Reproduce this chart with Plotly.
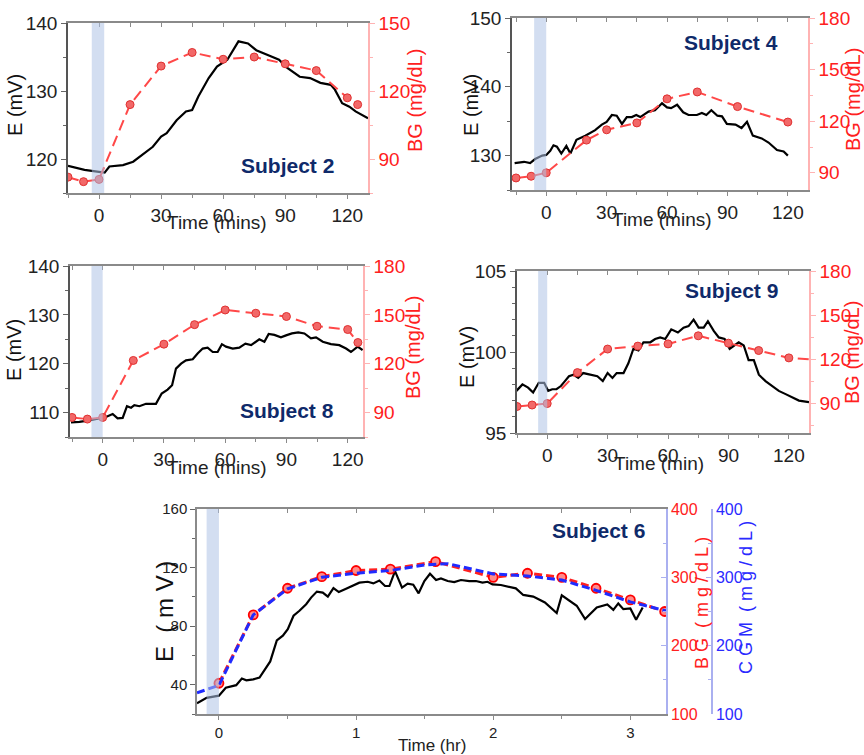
import plotly.graph_objects as go

# ---------------- DATA ----------------
s2_t_e = [-15,-7,0,2.7,5,11.6,16.5,21,26,30,32.7,37.5,42,45,48,53,57,62,67.4,72,76,83,87,91,97,102,107,112,114,117.5,121,124,130]
s2_e = [119,118.4,118.1,118,118.9,119.1,119.6,120.7,121.8,123.3,123.8,125.7,127,127.2,129.2,131.9,133.6,134.6,137.3,137,136,135.1,134.6,133.4,132.1,131.9,131.2,130.9,130.2,128.2,127.7,127,126]
s2_t_bg = [-15,-7.5,0,15,30,45,60,75,90,105,120,125]
s2_bg = [82,80,81,114,131,137,134,135,132,129,117,114]

s4_t_e = [-15.7,-11,-8,-5.5,-2,0,2,3.6,5.3,7.5,10,12,15,19.4,24.3,27.6,30,32.6,35,37.6,40,42.5,44.7,46.7,50.8,54,57.5,60,62,65,68,70.7,74.8,77.3,79.5,82,85,87.3,89.7,94,97,99.7,102.6,107,110.4,114.6,117.9,120]
s4_e = [128.9,129.1,128.9,129.5,130,130.1,130.7,131.5,131.3,130.3,131.4,130.3,132.3,132.9,133.7,134.5,134.9,135.9,135.8,134.6,135.6,135.6,135.9,135.6,136.4,136.6,137.6,137,136.9,137.4,136.3,135.9,135.9,136.2,135.9,136.6,135.8,135.7,134.6,134.5,134,134.9,132.9,132.5,131.9,130.8,130.6,130]
s4_t_bg = [-15,-7.5,0,20,30,45,60,75,95,120]
s4_bg = [87,88,90,109,115,119,133,137,128.5,119.5]

s8_t_e = [-15.5,-11.4,-6.5,-1.6,1.6,4.9,7.3,9.8,11.9,13.9,15.5,18,21.2,26.1,28.9,31.8,34,35.9,38.4,40.8,44.1,46.5,49,51.4,53.9,56.3,58.4,60.4,63.7,66.9,69.9,72.7,76.7,79.2,81.3,84.1,87.3,89.8,92.7,95.8,98.8,102,104.5,107.8,111.8,115.9,119.2,121.6,124.9,127.3]
s8_e = [108,108.1,108.4,108.8,109.1,109.7,108.8,108.9,111.3,111,111.5,111.3,111.8,111.8,113.9,114.7,115.6,119,120,120.7,120.9,122.1,123.1,123.3,122.4,122.4,124,123.5,123.1,123.3,124.1,123.8,125,124.5,126.1,125.9,125.4,125.8,126.2,126.4,126.2,125.2,125.4,124.5,124,123.8,123.1,122.4,123.5,122.8]
s8_t_bg = [-15,-7.5,0,15,30,45,60,75,90,105,120,125]
s8_bg = [87,86,87,122,132,144,153,151,149,143,141,133]

s9_t_e = [-15.3,-12.3,-9.5,-7,-4.2,-1.5,0.5,2.5,4.6,6.8,8.8,10.8,13,15.4,17.9,21.2,24.9,27.6,30,32.4,34.5,37.9,40.3,42.8,45.3,47.8,51.2,53.6,56.1,58.6,61.6,64.9,67.7,70.2,72.7,75.2,77.7,79.8,82.7,85.2,88.1,90.6,93.1,95.1,97.6,100,102.6,105.1,108.4,111.8,115,118.4,121.7,125,130]
s9_e = [97.6,98,97.8,97.5,98.1,98.1,97.6,97.7,97.7,97.9,98.2,98.5,98.6,98.4,98.7,98.6,98.5,98.2,98.7,98.4,98.7,98.7,99.3,100.2,100.1,100.6,100.6,100.8,100.9,100.8,101.4,101.2,101.5,101.6,102,101.5,101.5,101.9,101.3,100.9,100.8,100.2,100.4,100.6,100.4,99.5,99.5,98.6,98.2,97.9,97.6,97.4,97.2,97,96.9]
s9_t_bg = [-15,-7.5,0,15,30,45,60,75,90,105,120,135]
s9_bg = [88,89,90,111,127,129,130.5,136,131,126,121,119.5]

s6_t_e = [-0.16,-0.09,0,0.05,0.126,0.167,0.2,0.25,0.296,0.333,0.374,0.422,0.466,0.502,0.544,0.587,0.636,0.672,0.714,0.757,0.794,0.835,0.874,0.927,0.976,1.024,1.085,1.126,1.17,1.211,1.243,1.284,1.335,1.376,1.417,1.456,1.498,1.539,1.583,1.619,1.668,1.716,1.765,1.825,1.874,1.922,1.959,1.995,2.056,2.117,2.165,2.219,2.292,2.377,2.463,2.5,2.609,2.67,2.755,2.832,2.876,2.912,2.949,3.0,3.042,3.09]
s6_e = [27.3,31,32.5,37.9,39.7,44.2,43,43.7,44.9,49.8,55.9,70.2,73.5,78,87.1,90.5,95,99.5,103.6,102.9,100.2,106,103.3,105.6,107.9,109.7,110.3,109.2,111.2,107.4,107.4,117.6,106.3,109,108.3,102.4,110.8,115.8,111.5,112.6,110.8,110.1,111.5,110.8,110.8,109.7,110.3,108.5,108.1,107,105.8,101.3,100.2,96.2,88.9,101.1,93.9,84.8,92.8,94.8,91.1,95.5,91.6,92.1,84.4,92.8]
s6_t_bg = [0,0.25,0.5,0.75,1.0,1.25,1.58,2.0,2.25,2.5,2.75,3.0,3.25]
s6_bg = [145,245,284,301,310,312,323,300,306,300,284,267,250]
s6_t_cgm = [-0.16,0,0.25,0.5,0.75,1.0,1.25,1.5,1.67,2.0,2.25,2.5,2.75,3.0,3.26]
s6_cgm = [131,142,245,283,300,306,310,318,320,305,302,296,281,264,251]

# ---------------- STYLE ----------------
W, H = 864, 755
def PX(x): return x / W
def PY(y): return 1 - y / H

FONT = "Liberation Sans, Arial, sans-serif"
NARROW = "Liberation Sans Narrow, Arial Narrow, Liberation Sans, sans-serif"
RED = "#ff2020"
NAVY = "#0f2a6a"
BLUE = "#2a2aff"
BAND = "rgba(175,195,230,0.55)"
PINK = "#ffb3b3"

fig = go.Figure()
layout = dict(width=W, height=H, margin=dict(l=0, r=0, t=0, b=0, autoexpand=False),
              paper_bgcolor="white", plot_bgcolor="white", showlegend=False)
shapes, annotations = [], []

def ax_id(prefix, n):
    return prefix if n == 1 else f"{prefix}{n}"

def key(prefix, n):
    return f"{prefix}axis" if n == 1 else f"{prefix}axis{n}"

def note(text, x, y, size, color, fam, angle=0):
    annotations.append(dict(text=text, x=PX(x), y=PY(y), xref="paper", yref="paper",
                            xanchor="center", yanchor="middle", showarrow=False, textangle=angle,
                            font=dict(size=size, color=color, family=fam)))

def add_panel(k, xd, yd, xr, yl, yr, ydt, ymin, y2dt, band, t_e, e, t_bg, bg,
              title, title_xy, e_xy, bg_xy, time_txt, time_xy, small=False):
    xn, yln, yrn = k, 2 * k - 1, 2 * k
    xid, ylid, yrid = ax_id("x", xn), ax_id("y", yln), ax_id("y", yrn)
    xtop = ax_id("x", xn + 5)
    fam = NARROW if small else FONT
    tsize = 15 if small else 19
    xmaj = 1 if small else 30
    xmin = 0.5 if small else 15
    layout[key("x", xn)] = dict(
        domain=xd, range=xr, anchor=ylid, showline=True, linecolor="#8a8a8a", linewidth=1.5,
        mirror=True, ticks="outside", ticklen=4, tickcolor="#8a8a8a",
        tick0=0, dtick=xmaj,
        minor=dict(dtick=xmin, ticks="outside", ticklen=3, tickcolor="#8a8a8a"),
        tickfont=dict(size=tsize, color="#222", family=fam), showgrid=False, zeroline=False,
        automargin=False)
    # top ticks (inside) on the frame
    layout[key("x", xn + 5)] = dict(
        range=xr, overlaying=xid, anchor=ylid, side="top", showline=False,
        ticks="inside", ticklen=4, tickcolor="#8a8a8a", tick0=0, dtick=xmin,
        showticklabels=False, showgrid=False, zeroline=False, automargin=False)
    fig.add_trace(go.Scatter(x=[xr[0]], y=[None], mode="lines", xaxis=xtop, yaxis=ylid,
                             hoverinfo="skip", showlegend=False))
    layout[key("y", yln)] = dict(
        domain=yd, range=yl, anchor=xid, showline=True, linecolor="#555" if not small else "#8a8a8a",
        linewidth=1.5, ticks="outside", ticklen=5, tickcolor="#666", tick0=0, dtick=ydt,
        minor=dict(dtick=ymin, ticks="outside", ticklen=3, tickcolor="#666"),
        tickfont=dict(size=tsize, color="#222", family=fam), showgrid=False, zeroline=False,
        automargin=False)
    layout[key("y", yrn)] = dict(
        range=yr, anchor=xid, overlaying=ylid, side="right", showline=True,
        linecolor=("#aab0f0" if small else PINK), linewidth=1.5,
        ticks=("inside" if small else "outside"), ticklen=5,
        tickcolor=("#aab0f0" if small else PINK), tick0=0, dtick=y2dt,
        minor=dict(dtick=y2dt / 2, ticks=("inside" if small else "outside"), ticklen=3,
                   tickcolor=("#aab0f0" if small else PINK)),
        tickfont=dict(size=tsize + (1 if small else 0), color=RED, family=fam),
        showgrid=False, zeroline=False, automargin=False)
    fig.add_trace(go.Scatter(x=t_e, y=e, mode="lines", xaxis=xid, yaxis=ylid,
                             line=dict(color="black", width=2.2)))
    if small:
        fig.add_trace(go.Scatter(x=t_bg, y=bg, mode="lines+markers", xaxis=xid, yaxis=yrid,
                                 line=dict(color="#ff2020", width=3, dash="8px,4px"),
                                 marker=dict(size=9, color="#ff8a8a", line=dict(color="#ff0000", width=1.8))))
    else:
        fig.add_trace(go.Scatter(x=t_bg, y=bg, mode="lines+markers", xaxis=xid, yaxis=yrid,
                                 line=dict(color="#ff4848", width=2, dash="11px,6px"),
                                 marker=dict(size=8, color="#f26868", line=dict(color="#e03030", width=1))))
    shapes.append(dict(type="rect", xref=xid, yref=f"{ylid} domain", x0=band[0], x1=band[1],
                       y0=0, y1=1, fillcolor=BAND, line=dict(width=0), layer="above"))
    note(f"<b>{title}</b>", title_xy[0], title_xy[1], 21, NAVY, FONT)
    note(e_xy[2], e_xy[0], e_xy[1], (24 if small else 20), "#111", fam, -90)
    note(bg_xy[2], bg_xy[0], bg_xy[1], (18 if small else 20), RED, fam, -90)
    note(time_txt, time_xy[0], time_xy[1], (17 if small else 19), "#222", fam)

add_panel(1, [PX(68), PX(368)], [PY(193), PY(23)], [-15, 130], [115, 140], [75, 150], 10, 5, 30,
          (-3.5, 2.5), s2_t_e, s2_e, s2_t_bg, s2_bg,
          "Subject 2", (287, 165), (15, 105, "E (mV)"), (415, 101, "BG (mg/dL)"),
          "Time (mins)", (217, 222))
add_panel(2, [PX(512), PX(808)], [PY(190), PY(18)], [-17, 130], [125, 150], [80, 180], 10, 5, 30,
          (-6, 0), s4_t_e, s4_e, s4_t_bg, s4_bg,
          "Subject 4", (731, 43), (471, 105, "E (mV)"), (853, 100, "BG (mg/dL)"),
          "Time (mins)", (662, 220))
add_panel(3, [PX(70), PX(363)], [PY(437), PY(266)], [-16, 127.5], [105, 140], [75, 180], 10, 5, 30,
          (-5.5, 0), s8_t_e, s8_e, s8_t_bg, s8_bg,
          "Subject 8", (287, 410), (14, 350, "E (mV)"), (413, 348, "BG (mg/dL)"),
          "Time (mins)", (217, 467))
add_panel(4, [PX(517), PX(809)], [PY(433), PY(271)], [-15, 130], [95, 105], [70, 180], 5, 1, 30,
          (-4.5, 0), s9_t_e, s9_e, s9_t_bg, s9_bg,
          "Subject 9", (731, 290), (467, 357, "E (mV)"), (852, 353, "BG (mg/dL)"),
          "Time (min)", (659, 463))
add_panel(5, [PX(197), PX(666)], [PY(714), PY(509)], [-0.16, 3.26], [20, 160], [100, 400], 40, 20, 100,
          (-0.09, 0), s6_t_e, s6_e, s6_t_bg, s6_bg,
          "Subject 6", (598, 530), (164, 612, "E  ( m V )"), (702, 603, "B G  ( m g / d L )"),
          "Time (hr)", (432, 745), small=True)

# third axis (CGM) for subject 6
layout["yaxis11"] = dict(range=[100, 400], anchor="free", overlaying="y9", side="right",
                         position=PX(712), showline=True, linecolor="#aab0f0", linewidth=1.5,
                         ticks="inside", ticklen=5, tickcolor="#aab0f0", tick0=0, dtick=100,
                         minor=dict(dtick=50, ticks="inside", ticklen=3, tickcolor="#aab0f0"),
                         tickfont=dict(size=16, color=BLUE, family=NARROW),
                         showgrid=False, zeroline=False, automargin=False)
fig.add_trace(go.Scatter(x=s6_t_cgm, y=s6_cgm, mode="lines", xaxis="x5", yaxis="y11",
                         line=dict(color="#1f2bff", width=3, dash="8px,4px")))
note("C G M  ( m g / d L )", 746, 598, 18, BLUE, NARROW, -90)

layout["shapes"] = shapes
layout["annotations"] = annotations
fig.update_layout(**layout)
fig.write_html("out.html", post_script="document.body.style.margin='0';document.body.style.padding='0';")
